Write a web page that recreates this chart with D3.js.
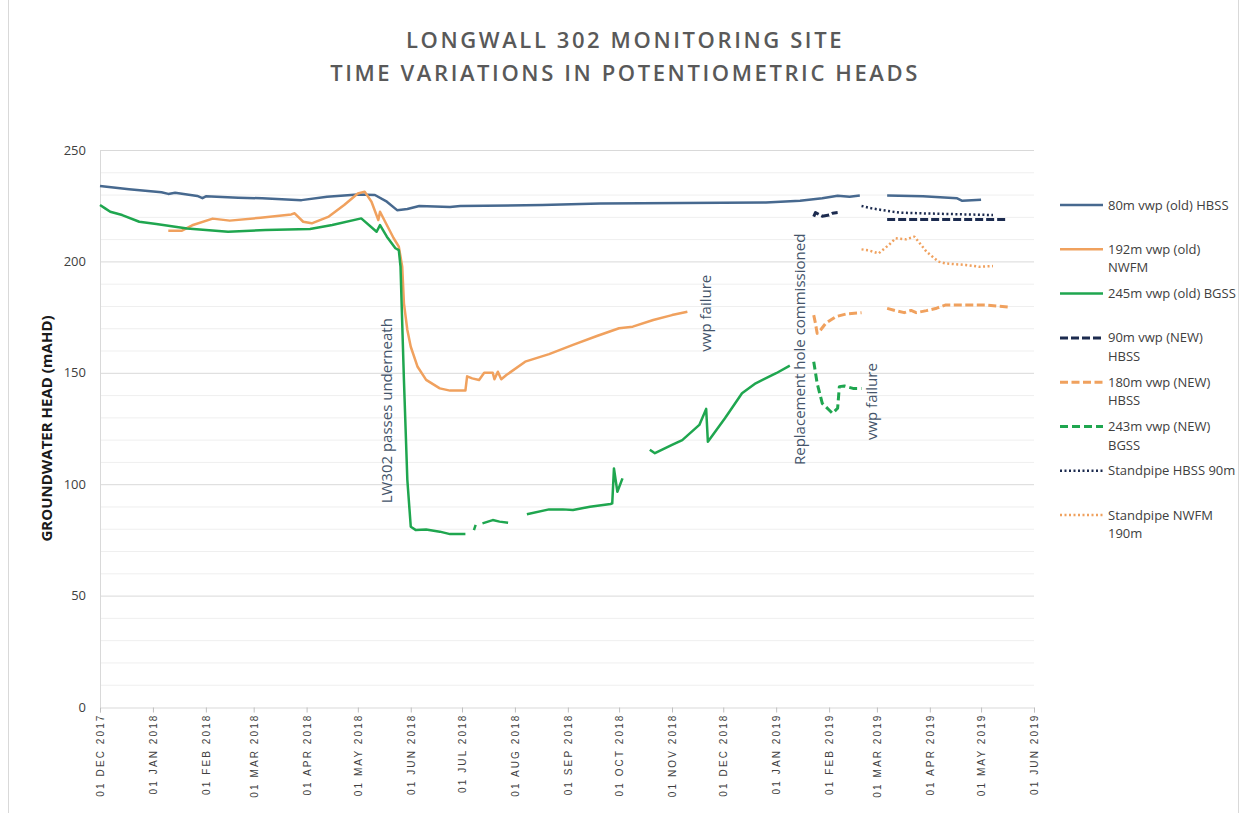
<!DOCTYPE html>
<html>
<head>
<meta charset="utf-8">
<script src="https://d3js.org/d3.v7.min.js"></script>
<style>
  body { margin: 0; background: #fff; }
  svg { display: block; font-family: "Open Sans", "Liberation Sans", sans-serif; }
</style>
</head>
<body>
<svg id="chart" width="1244" height="813"></svg>
<script>
// series values ([date, mAHD], null = no reading)
const vwp80Old = [
  ["2017-12-01",233.8],["2017-12-18",232.4],["2018-01-06",231.0],["2018-01-10",230.3],["2018-01-14",230.8],
  ["2018-01-27",229.4],["2018-01-30",228.4],["2018-02-01",229.2],["2018-02-20",228.6],["2018-03-06",228.3],
  ["2018-03-29",227.5],["2018-04-13",229.0],["2018-05-01",230.0],["2018-05-11",229.8],["2018-05-18",226.8],
  ["2018-05-24",223.0],["2018-05-30",223.5],["2018-06-06",224.9],["2018-06-24",224.4],["2018-06-30",224.9],
  ["2018-08-17",225.3],["2018-09-20",226.0],["2018-12-26",226.4],["2019-01-15",227.2],["2019-01-28",228.3],
  ["2019-02-06",229.5],["2019-02-13",229.0],["2019-02-19",229.6],["2019-02-25",null],
  ["2019-03-07",229.6],["2019-03-28",229.2],["2019-04-17",228.3],["2019-04-20",227.2],["2019-05-01",227.7]
];
const vwp192Old = [
  ["2018-01-10",213.8],["2018-01-18",213.8],["2018-01-24",216.2],["2018-02-05",219.2],["2018-02-15",218.3],
  ["2018-03-05",219.6],["2018-03-23",221.1],["2018-03-25",221.6],["2018-03-30",217.8],["2018-04-04",217.1],
  ["2018-04-14",220.1],["2018-04-23",225.3],["2018-05-01",230.5],["2018-05-05",231.3],["2018-05-09",226.8],
  ["2018-05-13",218.6],["2018-05-14",222.3],["2018-05-17",217.8],["2018-05-22",210.4],["2018-05-25",206.6],
  ["2018-05-27",197.6],["2018-05-28",181.2],["2018-05-30",169.2],["2018-06-01",161.7],["2018-06-05",152.7],
  ["2018-06-10",146.8],["2018-06-18",143.0],["2018-06-24",142.0],["2018-07-03",142.0],["2018-07-04",148.4],
  ["2018-07-07",147.5],["2018-07-11",146.8],["2018-07-14",150.0],["2018-07-19",150.0],["2018-07-20",147.1],
  ["2018-07-22",150.5],["2018-07-24",147.1],["2018-07-27",149.0],["2018-08-07",155.0],["2018-08-21",158.4],
  ["2018-09-04",162.5],["2018-09-18",166.5],["2018-10-01",170.0],["2018-10-09",170.7],["2018-10-21",173.7],
  ["2018-11-01",175.9],["2018-11-10",177.4]
];
const vwp245Old = [
  ["2017-12-01",225.3],["2017-12-04",223.8],["2017-12-07",222.3],["2017-12-14",220.8],["2017-12-24",217.8],
  ["2018-01-03",216.8],["2018-01-21",214.8],["2018-02-14",213.3],["2018-03-08",214.1],["2018-04-03",214.5],
  ["2018-04-16",216.3],["2018-05-03",219.3],["2018-05-12",213.3],["2018-05-14",216.3],["2018-05-18",211.1],
  ["2018-05-23",205.9],["2018-05-25",205.1],["2018-05-26",197.6],["2018-05-28",146.8],["2018-05-30",101.9],
  ["2018-06-01",80.9],["2018-06-04",79.4],["2018-06-10",79.7],["2018-06-18",78.7],["2018-06-24",77.6],
  ["2018-07-03",77.6],["2018-07-05",null],
  ["2018-07-08",79.4],["2018-07-09",81.7],["2018-07-11",null],
  ["2018-07-13",82.4],["2018-07-19",83.9],["2018-07-23",83.2],["2018-07-28",82.7],["2018-08-02",null],
  ["2018-08-08",86.5],["2018-08-21",88.7],["2018-08-29",88.7],["2018-09-04",88.4],["2018-09-14",89.9],
  ["2018-09-26",91.1],["2018-09-27",91.4],["2018-09-28",107.1],["2018-09-30",96.6],["2018-10-03",102.6],
  ["2018-10-10",null],
  ["2018-10-19",115.5],["2018-10-22",113.9],["2018-11-01",117.6],["2018-11-07",119.8],["2018-11-17",126.6],
  ["2018-11-21",133.8],["2018-11-22",119.1],["2018-12-02",129.6],["2018-12-12",140.8],["2018-12-20",145.3],
  ["2019-01-01",149.8],["2019-01-09",153.2]
];
const vwp90New = [
  ["2019-01-23",220.1],["2019-01-24",221.9],["2019-01-28",220.3],["2019-02-01",220.8],["2019-02-03",221.6],
  ["2019-02-06",221.9],["2019-02-20",null],
  ["2019-03-07",218.8],["2019-05-16",218.8]
];
const vwp180New = [
  ["2019-01-23",175.9],["2019-01-24",172.2],["2019-01-25",167.7],["2019-01-27",169.2],["2019-01-30",172.2],
  ["2019-02-05",175.2],["2019-02-11",176.4],["2019-02-20",177.0],["2019-02-27",null],
  ["2019-03-07",178.9],["2019-03-12",177.9],["2019-03-17",177.0],["2019-03-21",178.0],["2019-03-24",177.0],
  ["2019-03-30",177.9],["2019-04-05",179.0],["2019-04-10",180.4],["2019-04-22",180.4],["2019-05-04",180.4],
  ["2019-05-10",180.0],["2019-05-18",179.4]
];
const vwp243New = [
  ["2019-01-23",155.0],["2019-01-25",145.3],["2019-01-28",136.3],["2019-02-01",133.3],["2019-02-03",131.8],
  ["2019-02-06",134.1],["2019-02-07",143.8],["2019-02-10",144.1],["2019-02-15",143.0],["2019-02-20",143.0]
];
const standpipeHBSS90 = [
  ["2019-02-20",224.9],["2019-02-26",223.8],["2019-03-06",222.8],["2019-03-14",221.9],["2019-03-26",221.6],
  ["2019-04-10",221.3],["2019-05-08",220.8]
];
const standpipeNWFM190 = [
  ["2019-02-20",205.4],["2019-02-24",205.0],["2019-03-02",203.6],["2019-03-08",207.4],["2019-03-12",210.4],
  ["2019-03-18",209.9],["2019-03-23",211.1],["2019-03-30",204.4],["2019-04-06",199.9],["2019-04-10",199.1],
  ["2019-04-22",198.4],["2019-04-30",197.6],["2019-05-08",197.9]
];

const legendLabels = [
  ["80m vwp (old) HBSS"], ["192m vwp (old)", "NWFM"], ["245m vwp (old) BGSS"],
  ["90m vwp (NEW)", "HBSS"], ["180m vwp (NEW)", "HBSS"], ["243m vwp (NEW)", "BGSS"],
  ["Standpipe HBSS 90m"], ["Standpipe NWFM", "190m"]
];
const yTicks = [0, 50, 100, 150, 200, 250];
const xDomain = ["2017-12-01", "2019-06-01"];
const titleLines = ["LONGWALL 302 MONITORING SITE", "TIME VARIATIONS IN POTENTIOMETRIC HEADS"];
const yLabel = "GROUNDWATER HEAD (mAHD)";
const annotations = [
  ["2018-05-21", 91.4, "LW302 passes underneath"],
  ["2018-11-24", 159.5, "vwp failure"],
  ["2019-01-18", 108.6, "Replacement hole commissioned"],
  ["2019-03-01", 119.8, "vwp failure"]
];

// colours / line styles, same order as legend
const blue = "#47698f", orange = "#f0a15e", green = "#1fa64f", navy = "#1c2b4f";
const styles = [
  {color: blue, dash: null, w: 2.5},
  {color: orange, dash: null, w: 2.5},
  {color: green, dash: null, w: 2.5},
  {color: navy, dash: "8,3", w: 3},
  {color: orange, dash: "8,3.5", w: 3},
  {color: green, dash: "8,4", w: 3},
  {color: navy, dash: "2,2.5", w: 2.5},
  {color: orange, dash: "2,2.5", w: 2.5}
];
const allSeries = [vwp80Old, vwp192Old, vwp245Old, vwp90New, vwp180New, vwp243New, standpipeHBSS90, standpipeNWFM190];

const parse = d3.utcParse("%Y-%m-%d");
const svg = d3.select("#chart");

const margin = {left: 100, right: 1034, top: 150, bottom: 707};
const x = d3.scaleUtc().domain(xDomain.map(parse)).range([margin.left, margin.right]);
const y = d3.scaleLinear().domain([0, 250]).range([margin.bottom, margin.top]);

// outer frame
svg.append("rect")
  .attr("x", 8.5).attr("y", -5).attr("width", 1230).attr("height", 830)
  .attr("fill", "none").attr("stroke", "#d9d9d9");

// title
svg.append("g").selectAll("text").data(titleLines).join("text")
  .attr("x", 625).attr("y", (d, i) => 48 + i * 33)
  .attr("text-anchor", "middle")
  .attr("fill", "#595959")
  .style("font-size", "22px").style("font-weight", 600).style("letter-spacing", "2.6px")
  .text(d => d);

// grid
svg.append("g").selectAll("line").data(d3.range(10, 251, 10)).join("line")
  .attr("x1", margin.left).attr("x2", margin.right)
  .attr("y1", d => y(d) + 0.5).attr("y2", d => y(d) + 0.5)
  .attr("stroke", d => d % 50 === 0 ? "#d9d9d9" : "#efefef")
  .attr("stroke-width", 1);

// y axis
const yAxis = svg.append("g")
  .attr("transform", `translate(${margin.left},0)`)
  .call(d3.axisLeft(y).tickValues(yTicks).tickSize(0).tickPadding(14));
yAxis.select(".domain").attr("stroke", "#d9d9d9");
yAxis.selectAll("text").attr("fill", "#404040").style("font-size", "13px")
  .style("font-family", "'Open Sans', sans-serif");

svg.append("text")
  .attr("transform", `translate(52,${(margin.top + margin.bottom) / 2}) rotate(-90)`)
  .attr("text-anchor", "middle")
  .attr("fill", "#1a1a1a")
  .style("font-size", "15px").style("font-weight", 700)
  .text(yLabel);

// x axis
const fmt = d3.utcFormat("%d %b %Y");
const xAxis = svg.append("g")
  .attr("transform", `translate(0,${margin.bottom + 0.5})`)
  .call(d3.axisBottom(x).ticks(d3.utcMonth.every(1)).tickSizeOuter(0).tickSize(5)
    .tickFormat(d => fmt(d).toUpperCase()));
xAxis.select(".domain").attr("stroke", "#d9d9d9");
xAxis.selectAll(".tick line").attr("stroke", "#bfbfbf");
xAxis.selectAll("text")
  .attr("transform", "rotate(-90)")
  .attr("text-anchor", "end")
  .attr("x", -6).attr("y", 0).attr("dy", "0.35em")
  .attr("fill", "#404040")
  .style("font-family", "'Liberation Sans', Arial, sans-serif")
  .style("font-size", "10px").style("letter-spacing", "2.1px");

// lines
const line = d3.line()
  .defined(d => d[1] != null)
  .x(d => x(parse(d[0])))
  .y(d => y(d[1]));

svg.append("g").selectAll("path").data(allSeries).join("path")
  .attr("d", line)
  .attr("fill", "none")
  .attr("stroke", (d, i) => styles[i].color)
  .attr("stroke-width", (d, i) => styles[i].w)
  .attr("stroke-dasharray", (d, i) => styles[i].dash)
  .attr("stroke-linejoin", "round");

// annotations
svg.append("g").selectAll("text").data(annotations).join("text")
  .attr("transform", d => `translate(${x(parse(d[0]))},${y(d[1])}) rotate(-90)`)
  .attr("fill", "#44546a")
  .style("font-size", "15px")
  .text(d => d[2]);

// legend
const legend = svg.append("g");
const item = legend.selectAll("g").data(legendLabels).join("g")
  .attr("transform", (d, i) => `translate(1060,${205 + i * 44.3})`);
item.append("line")
  .attr("x1", 0).attr("x2", 43)
  .attr("stroke", (d, i) => styles[i].color)
  .attr("stroke-width", (d, i) => styles[i].w)
  .attr("stroke-dasharray", (d, i) => styles[i].dash);
item.append("text")
  .attr("x", 48).attr("y", 4.5)
  .attr("fill", "#404040")
  .style("font-size", "13px")
  .selectAll("tspan").data(d => d).join("tspan")
  .attr("x", 48).attr("dy", (d, i) => i ? 18.5 : 0)
  .text(d => d);
</script>
</body>
</html>
